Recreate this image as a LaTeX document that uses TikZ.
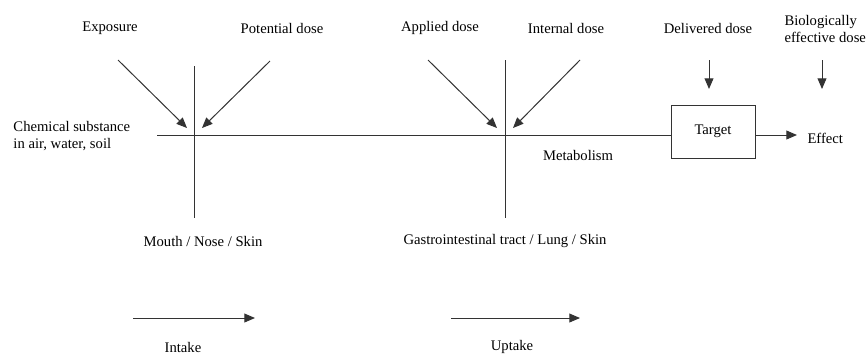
\documentclass[tikz,border=0pt]{standalone}
\usepackage{fontspec}
\setmainfont{Liberation Serif}
\usetikzlibrary{arrows.meta}
\tikzset{lbl/.style={font=\fontsize{12.5}{15}\selectfont, inner sep=0pt},
  pil/.style={-{Triangle[length=9pt,width=7.5pt]}},
  left lbl/.style={lbl, align=left, anchor=west}}
\begin{document}
\begin{tikzpicture}[x=0.03cm,y=-0.03cm,line width=0.85pt,draw=black!80]
\useasboundingbox (0,0) rectangle (867,354);
% dose labels on top
\node[lbl] (exposure) at (110,28) {Exposure};
\node[lbl] (potential) at (282,28) {Potential dose};
\node[lbl] (applied) at (440,28) {Applied dose};
\node[lbl] (internal) at (566,28) {Internal dose};
\node[lbl] (delivered) at (708,28) {Delivered dose};
\node[left lbl] (bio) at (784,29) {Biologically\\effective dose};

% main line with the target
\node[draw,minimum width=2.52cm,minimum height=1.59cm,lbl] (target) at (713,131.5) {\raisebox{-3pt}{Target}};
\node[left lbl] (effect) at (807,138) {Effect};
\node[left lbl] (chem) at (13,136) {Chemical substance\\in air, water, soil};
\coordinate (start) at (157,135);
\coordinate (tip) at (797,135);
\draw (start) -- (start -| target.west);
\draw[pil] (start -| target.east) -- (tip);
\node[lbl] (metab) at (578,155) {Metabolism};

% the two barriers
\coordinate (b1top) at (194,66);  \coordinate (b1bot) at (194,218);
\coordinate (b2top) at (505,60);  \coordinate (b2bot) at (505,218);
\draw (b1top) -- (b1bot);
\draw (b2top) -- (b2bot);
\node[lbl] (mouth) at (203,241) {Mouth / Nose / Skin};
\node[lbl] (gi) at (505,241) {Gastrointestinal tract / Lung / Skin};

% slanted arrows
\coordinate (e1) at (118,60);  \coordinate (e2) at (187,128);
\coordinate (p1) at (270,61);  \coordinate (p2) at (202,128);
\coordinate (a1) at (428,60);  \coordinate (a2) at (497,128);
\coordinate (i1) at (580,60);  \coordinate (i2) at (513,128);
\draw[pil] (e1) -- (e2);
\draw[pil] (p1) -- (p2);
\draw[pil] (a1) -- (a2);
\draw[pil] (i1) -- (i2);
\draw[pil] (709,60) coordinate (d1) -- (709,89) coordinate (d2);
\draw[pil] (822,60) coordinate (f1) -- (822,89) coordinate (f2);

% intake, uptake
\coordinate (in1) at (133,318);  \coordinate (in2) at (255,318);
\coordinate (up1) at (451,318);  \coordinate (up2) at (580,318);
\draw[pil] (in1) -- (in2);
\draw[pil] (up1) -- (up2);
\node[lbl] (intake) at (183,347) {Intake};
\node[lbl] (uptake) at (512,347) {Uptake};
\end{tikzpicture}
\end{document}
